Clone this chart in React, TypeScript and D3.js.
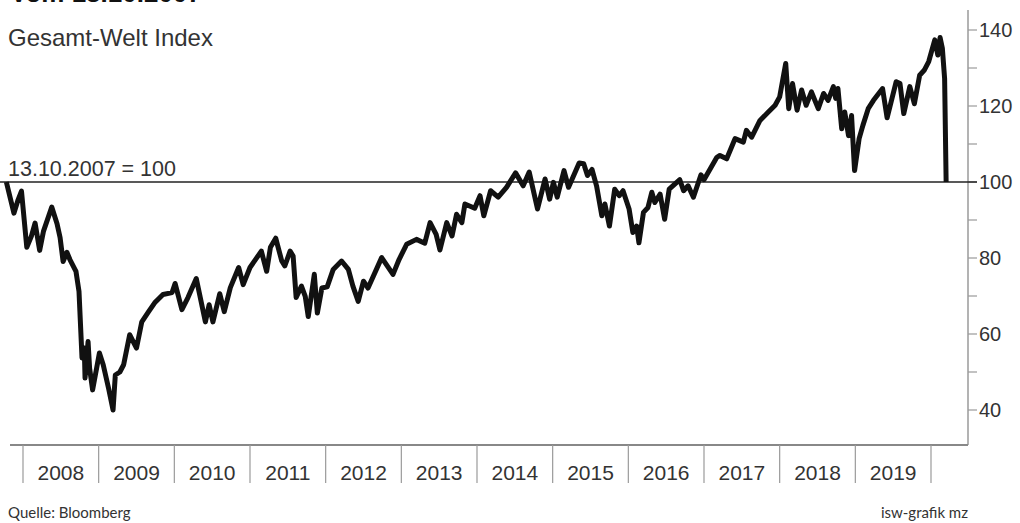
import * as d3 from "d3";
import { useEffect, useRef } from "react";

// Decimal years and index values (13.10.2007 = 100).
const years = [
  2007.78, 2007.88, 2007.93, 2007.98, 2008.05, 2008.11, 2008.16, 2008.22, 2008.27, 2008.38,
  2008.45, 2008.49, 2008.53, 2008.58, 2008.62, 2008.7, 2008.74, 2008.78, 2008.81, 2008.82,
  2008.86, 2008.88, 2008.92, 2009.01, 2009.06, 2009.13, 2009.19, 2009.22, 2009.28, 2009.33,
  2009.41, 2009.5, 2009.57, 2009.66, 2009.74, 2009.85, 2009.97, 2010.01, 2010.1, 2010.18,
  2010.29, 2010.41, 2010.46, 2010.51, 2010.6, 2010.66, 2010.74, 2010.85, 2010.91, 2011.0,
  2011.15, 2011.22, 2011.27, 2011.34, 2011.42, 2011.46, 2011.53, 2011.57, 2011.61, 2011.68,
  2011.73, 2011.77, 2011.85, 2011.89, 2011.95, 2012.02, 2012.1, 2012.21, 2012.3, 2012.36,
  2012.43, 2012.5, 2012.56, 2012.74, 2012.89, 2012.97, 2013.07, 2013.2, 2013.31, 2013.38,
  2013.46, 2013.51, 2013.6, 2013.67, 2013.73, 2013.8, 2013.84, 2013.97, 2014.04, 2014.09,
  2014.18, 2014.28, 2014.39, 2014.51, 2014.61, 2014.69, 2014.8, 2014.9, 2014.96, 2015.01,
  2015.06, 2015.15, 2015.21, 2015.35, 2015.41, 2015.46, 2015.52, 2015.58, 2015.65, 2015.69,
  2015.75, 2015.82, 2015.88, 2015.93, 2016.01, 2016.06, 2016.11, 2016.14, 2016.2, 2016.26,
  2016.31, 2016.35, 2016.42, 2016.48, 2016.54, 2016.68, 2016.73, 2016.79, 2016.86, 2016.96,
  2017.0, 2017.17, 2017.21, 2017.3, 2017.41, 2017.52, 2017.56, 2017.63, 2017.74, 2017.85,
  2017.94, 2018.0, 2018.08, 2018.12, 2018.17, 2018.23, 2018.29, 2018.35, 2018.42, 2018.51,
  2018.58, 2018.64, 2018.71, 2018.74, 2018.77, 2018.82, 2018.86, 2018.91, 2018.95, 2018.99,
  2019.05, 2019.1, 2019.17, 2019.24, 2019.36, 2019.42, 2019.54, 2019.59, 2019.64, 2019.72,
  2019.78, 2019.85, 2019.91, 2019.97, 2020.05, 2020.09, 2020.12, 2020.15, 2020.18, 2020.2,
];
const values = [
  100, 91.8, 95, 97.6, 82.8, 85.7, 89.2, 82, 87, 93.4,
  89, 85.4, 79.1, 81.5, 79.6, 76.5, 71.2, 53.7, 56.3, 48.4,
  58, 51, 45.3, 55, 51.9, 45.8, 40, 49.2, 50, 51.9,
  59.8, 56.3, 63.2, 65.9, 68.2, 70.4, 70.9, 73.3, 66.4, 69.6,
  74.6, 63.2, 67.7, 63.2, 70.6, 65.9, 72.2, 77.5, 73, 77.5,
  81.8, 76.5, 82.8, 85.2, 79.2, 77.9, 81.8, 80.5, 69.6, 72.6,
  69.9, 64.6, 75.7, 65.5, 72.1, 72.4, 77, 79.2, 77, 72.6,
  68.6, 73.9, 72.1, 80.1, 75.7, 79.6, 83.6, 84.9, 83.9, 89.3,
  86.2, 82.1, 89.3, 85.8, 91.5, 89.3, 94.2, 93.1, 96.4, 91.1,
  97.7, 96, 98.6, 102.4, 99, 102.6, 92.9, 100.8, 95.5, 99.9,
  96, 103, 98.6, 105, 104.8, 101.7, 103.3, 99, 91.1, 94.2,
  88.4, 98.1, 96.4, 97.7, 92.9, 86.7, 88.4, 84, 92, 93.3,
  97.3, 94.6, 96.8, 90.2, 98.1, 100.6, 97.7, 99, 96, 101.9,
  100.6, 106.5, 107, 106.1, 111.4, 110.5, 113.6, 111.8, 116.2, 118.4,
  120.2, 122.4, 131.2, 119.3, 125.9, 118.9, 124.2, 120.2, 123.7, 119.3,
  123.3, 121.5, 125.1, 122, 124.6, 114, 118.4, 112.2, 117.5, 103,
  111.4, 114.9, 119.3, 121.5, 124.6, 116.9, 126.4, 125.9, 118, 125.1,
  120.6, 128.1, 129.4, 131.7, 137.4, 133.4, 138, 135.2, 127.2, 100,
];

const yearLabels = [2008, 2009, 2010, 2011, 2012, 2013, 2014, 2015, 2016, 2017, 2018, 2019];
const majorTicks = [40, 60, 80, 100, 120, 140];
const minorTicks = [50, 70, 90, 110, 130];
const baseValue = 100;

const WIDTH = 1020;
const HEIGHT = 523;
const AXIS_X = 968;
const BOTTOM_Y = 445;
const FONT = "'Liberation Sans', Arial, sans-serif";
const FOOT_FONT = "Lato, 'DejaVu Sans', sans-serif";
const TEXT = "#333";
const GRAY = "#9a9a9a";

export default function App() {
  const ref = useRef<SVGSVGElement>(null);

  useEffect(() => {
    const svg = d3.select(ref.current);
    svg.selectAll("*").remove();

    const x = d3.scaleLinear().domain([2008, 2020]).range([23, 931]);
    const y = d3.scaleLinear().domain([40, 140]).range([410, 30]);

    svg.append("rect").attr("width", WIDTH).attr("height", HEIGHT).attr("fill", "#fff");

    // Headline, cut by the top edge as in the source image.
    svg
      .append("text")
      .attr("x", 10)
      .attr("y", 2)
      .attr("font-family", FONT)
      .attr("font-weight", "bold")
      .attr("font-size", 26)
      .attr("fill", "#111")
      .text("Vom 13.10.2007");

    svg
      .append("text")
      .attr("x", 8)
      .attr("y", 46)
      .attr("font-family", FONT)
      .attr("font-size", 24)
      .attr("fill", TEXT)
      .text("Gesamt-Welt Index");

    // Frame: right axis and bottom line.
    svg
      .append("line")
      .attr("x1", AXIS_X)
      .attr("x2", AXIS_X)
      .attr("y1", 10)
      .attr("y2", BOTTOM_Y)
      .attr("stroke", GRAY)
      .attr("stroke-width", 1.5);
    svg
      .append("line")
      .attr("x1", 10)
      .attr("x2", AXIS_X)
      .attr("y1", BOTTOM_Y)
      .attr("y2", BOTTOM_Y)
      .attr("stroke", "#888")
      .attr("stroke-width", 1.8);

    // Y ticks on the right.
    svg
      .append("g")
      .attr("stroke", GRAY)
      .attr("stroke-width", 1.2)
      .selectAll("line")
      .data([...majorTicks, ...minorTicks])
      .join("line")
      .attr("x1", AXIS_X)
      .attr("x2", AXIS_X + 9)
      .attr("y1", (d) => y(d))
      .attr("y2", (d) => y(d));
    svg
      .append("g")
      .selectAll("text")
      .data(majorTicks)
      .join("text")
      .attr("x", AXIS_X + 11)
      .attr("y", (d) => y(d))
      .attr("dy", "0.36em")
      .attr("font-family", FONT)
      .attr("font-size", 20)
      .attr("fill", TEXT)
      .text((d) => d);

    // Year separators and labels.
    const bounds = [...yearLabels, 2020];
    svg
      .append("g")
      .selectAll("line")
      .data(bounds)
      .join("line")
      .attr("x1", (d) => x(d))
      .attr("x2", (d) => x(d))
      .attr("y1", BOTTOM_Y)
      .attr("y2", 483)
      .attr("stroke", GRAY)
      .attr("stroke-width", 1.2);
    svg
      .append("g")
      .selectAll("text")
      .data(yearLabels)
      .join("text")
      .attr("x", (d) => x(d + 0.5))
      .attr("y", 480)
      .attr("text-anchor", "middle")
      .attr("font-family", FONT)
      .attr("font-size", 21)
      .attr("fill", TEXT)
      .text((d) => d);

    // Base line at 100.
    svg
      .append("line")
      .attr("x1", 0)
      .attr("x2", AXIS_X + 9)
      .attr("y1", y(baseValue))
      .attr("y2", y(baseValue))
      .attr("stroke", "#222")
      .attr("stroke-width", 1.5);
    svg
      .append("text")
      .attr("x", 8)
      .attr("y", 176)
      .attr("font-family", FONT)
      .attr("font-size", 21.5)
      .attr("fill", TEXT)
      .text("13.10.2007 = 100");

    // Index line.
    const points = years.map((t, i) => [t, values[i]] as [number, number]);
    const line = d3
      .line<[number, number]>()
      .x((d) => x(d[0]))
      .y((d) => y(d[1]));
    svg
      .append("path")
      .attr("d", line(points) ?? "")
      .attr("fill", "none")
      .attr("stroke", "#111")
      .attr("stroke-width", 5)
      .attr("stroke-linejoin", "round")
      .attr("stroke-linecap", "butt");

    // Footer.
    svg
      .append("text")
      .attr("x", 8)
      .attr("y", 518)
      .attr("font-family", FOOT_FONT)
      .attr("font-size", 15)
      .attr("fill", TEXT)
      .text("Quelle: Bloomberg");
    svg
      .append("text")
      .attr("x", AXIS_X)
      .attr("y", 518)
      .attr("text-anchor", "end")
      .attr("font-family", FOOT_FONT)
      .attr("font-size", 15)
      .attr("fill", TEXT)
      .text("isw-grafik mz");
  }, []);

  return (
    <svg
      ref={ref}
      width={WIDTH}
      height={HEIGHT}
      viewBox={`0 0 ${WIDTH} ${HEIGHT}`}
      style={{ position: "absolute", left: 0, top: 0 }}
      role="img"
      aria-label="Gesamt-Welt Index seit 13.10.2007"
    />
  );
}
